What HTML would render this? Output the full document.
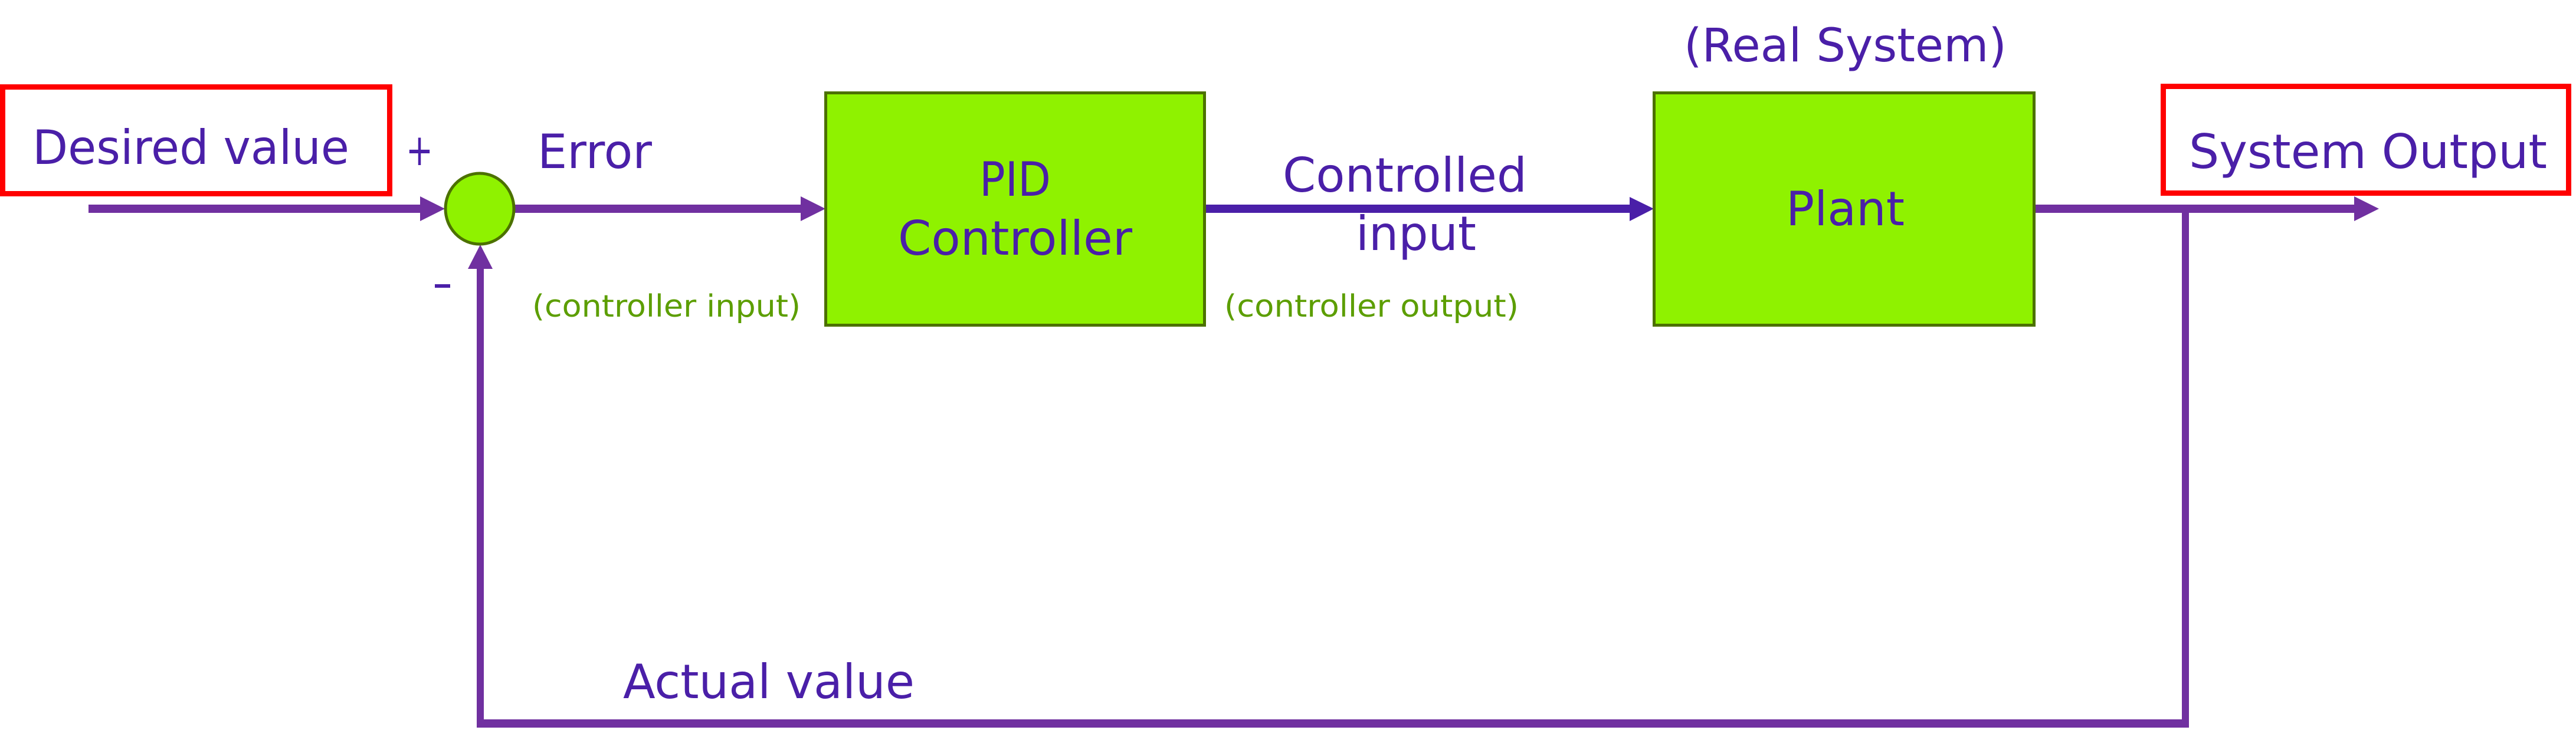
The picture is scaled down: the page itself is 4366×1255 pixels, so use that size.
<!DOCTYPE html>
<html><head><meta charset="utf-8"><style>html,body{margin:0;padding:0;background:#fff}svg{display:block}</style></head>
<body>
<svg width="4366" height="1255" viewBox="0 0 4366 1255" xmlns="http://www.w3.org/2000/svg" font-family="'DejaVu Sans','Liberation Sans',sans-serif">
<rect width="4366" height="1255" fill="#fff"/>
<!-- red boxes -->
<rect x="4.5" y="147.5" width="656" height="181" fill="none" stroke="#ff0000" stroke-width="9"/>
<rect x="3666.5" y="146.5" width="687" height="181" fill="none" stroke="#ff0000" stroke-width="9"/>
<!-- lines -->
<g fill="#7030a0">
<rect x="150" y="347" width="565" height="14"/>
<polygon points="712,333 754,354 712,375"/>
<rect x="870" y="347" width="490" height="14"/>
<polygon points="1357,333 1399,354 1357,375"/>
<rect x="3449" y="347" width="545" height="14"/>
<polygon points="3990,333 4032,354 3990,375"/>
<rect x="3698" y="354" width="12" height="880"/>
<rect x="809" y="1220" width="2901" height="14"/>
<rect x="808" y="452" width="12" height="782"/>
<polygon points="793,456 814,415 835,456"/>
</g>
<g fill="#4a1fa8">
<rect x="2043" y="347" width="722" height="14"/>
<polygon points="2762,334 2803,354 2762,375"/>
</g>
<!-- summing junction -->
<ellipse cx="813" cy="354" rx="58" ry="60" fill="#8ff200" stroke="#4c7100" stroke-width="5"/>
<!-- blocks -->
<rect x="1399.5" y="157.5" width="642" height="394" fill="#8ff200" stroke="#4c7100" stroke-width="5"/>
<rect x="2803.5" y="157.5" width="644" height="394" fill="#8ff200" stroke="#4c7100" stroke-width="5"/>
<!-- text -->
<g fill="#4a1fa8" font-size="80">
<text x="55" y="278" textLength="537" lengthAdjust="spacingAndGlyphs">Desired value</text>
<text x="688" y="280" font-size="74" textLength="46" lengthAdjust="spacingAndGlyphs">+</text>
<text x="911" y="285" textLength="194" lengthAdjust="spacingAndGlyphs">Error</text>
<rect x="737" y="482" width="26" height="6"/>
<text x="1660" y="332" textLength="121" lengthAdjust="spacingAndGlyphs">PID</text>
<text x="1522" y="432" textLength="397" lengthAdjust="spacingAndGlyphs">Controller</text>
<text x="2174" y="325" textLength="414" lengthAdjust="spacingAndGlyphs">Controlled</text>
<text x="2298" y="424" textLength="204" lengthAdjust="spacingAndGlyphs">input</text>
<text x="3027" y="382" textLength="201" lengthAdjust="spacingAndGlyphs">Plant</text>
<text x="2854" y="104" font-size="78" textLength="547" lengthAdjust="spacingAndGlyphs">(Real System)</text>
<text x="3710" y="285" textLength="607" lengthAdjust="spacingAndGlyphs">System Output</text>
<text x="1056" y="1184" textLength="494" lengthAdjust="spacingAndGlyphs">Actual value</text>
</g>
<g fill="#5c9e00" font-size="52">
<text x="902" y="537" textLength="455" lengthAdjust="spacingAndGlyphs">(controller input)</text>
<text x="2075" y="537" textLength="499" lengthAdjust="spacingAndGlyphs">(controller output)</text>
</g>
</svg>
</body></html>
